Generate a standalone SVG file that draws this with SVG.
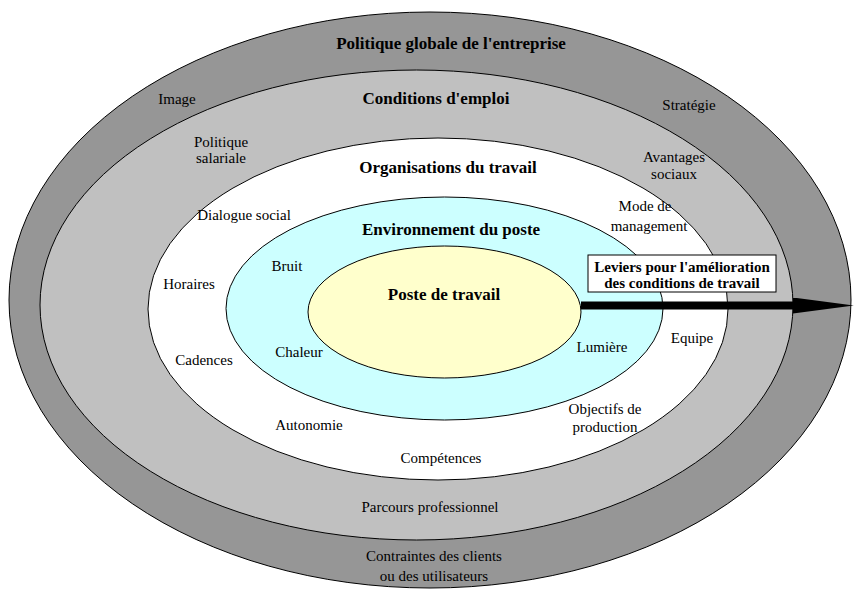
<svg xmlns="http://www.w3.org/2000/svg" width="854" height="590" viewBox="0 0 854 590">
<style>
.ring{stroke:#000;stroke-width:1}
text{font-family:"Liberation Serif","Times New Roman",serif;fill:#000;text-anchor:middle}
.t{font-size:15px}
.h{font-size:17px;font-weight:bold}
.b{font-size:15px;font-weight:bold}
</style>
<defs>
<marker id="ah" markerWidth="7.6" markerHeight="2" refX="0" refY="1" orient="auto" markerUnits="strokeWidth">
<path d="M0,0 L7.6,1 L0,2 Z" fill="#000"/>
</marker>
</defs>
<rect width="854" height="590" fill="#fff"/>
<g id="politique-globale">
<ellipse class="ring" cx="430" cy="300" rx="421" ry="288" fill="#969696"/>
<text class="h" x="451" y="49">Politique globale de l'entreprise</text>
<text class="t" x="177" y="104">Image</text>
<text class="t" x="689" y="110">Stratégie</text>
<text class="t" x="434" y="561">Contraintes des clients</text>
<text class="t" x="434" y="581">ou des utilisateurs</text>
</g>
<g id="conditions-emploi">
<ellipse class="ring" cx="416.5" cy="305" rx="376.5" ry="235" fill="#c0c0c0"/>
<text class="h" x="436" y="104">Conditions d'emploi</text>
<text class="t" x="221" y="147">Politique</text>
<text class="t" x="221" y="163">salariale</text>
<text class="t" x="674" y="162">Avantages</text>
<text class="t" x="674" y="179">sociaux</text>
<text class="t" x="430" y="512">Parcours professionnel</text>
</g>
<g id="organisations-travail">
<ellipse class="ring" cx="438" cy="309" rx="290" ry="171" fill="#fff"/>
<text class="h" x="448" y="173">Organisations du travail</text>
<text class="t" x="244" y="220">Dialogue social</text>
<text class="t" x="645" y="211">Mode de</text>
<text class="t" x="649" y="231">management</text>
<text class="t" x="189" y="289">Horaires</text>
<text class="t" x="692" y="343">Equipe</text>
<text class="t" x="204" y="365">Cadences</text>
<text class="t" x="605" y="414">Objectifs de</text>
<text class="t" x="605" y="432">production</text>
<text class="t" x="309" y="430">Autonomie</text>
<text class="t" x="441" y="463">Compétences</text>
</g>
<g id="environnement-poste">
<ellipse class="ring" cx="444.5" cy="308.5" rx="218.5" ry="111.5" fill="#ccffff"/>
<text class="h" x="451" y="235">Environnement du poste</text>
<text class="t" x="287" y="271">Bruit</text>
<text class="t" x="602" y="352">Lumière</text>
<text class="t" x="299" y="357">Chaleur</text>
</g>
<g id="poste-travail">
<ellipse class="ring" cx="444.5" cy="312" rx="136.5" ry="66" fill="#ffffcc"/>
<text class="h" x="444" y="300">Poste de travail</text>
</g>
<g id="connectors">
<line x1="581" y1="305.5" x2="793" y2="305.5" stroke="#000" stroke-width="8" marker-end="url(#ah)"/>
</g>
<g id="leviers">
<rect x="588" y="255" width="188" height="37" fill="#fff" stroke="#000" stroke-width="1"/>
<text class="b" x="682" y="272">Leviers pour l'amélioration</text>
<text class="b" x="682" y="288">des conditions de travail</text>
</g>
</svg>
